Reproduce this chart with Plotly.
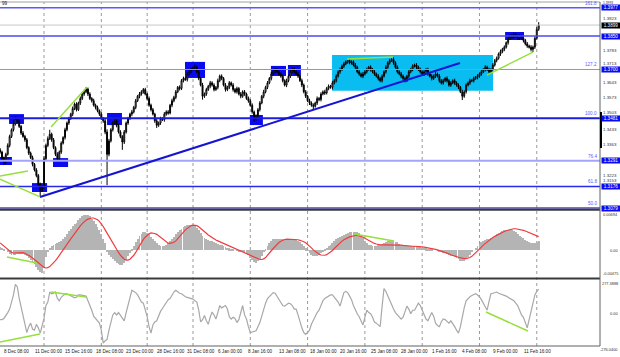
import plotly.graph_objects as go

# ---------------- data ----------------
bar_index = list(range(-1, 282))          # H4 bars, 0 = 8 Dec 08:00

open_first_pips = 340                      # pips above 1.3000
close_pips = [
    330, 300, 285, 320, 360, 400, 430, 455, 480, 470, 445, 415, 400, 385, 350, 325, 305, 275, 250, 225,
    185, 160, 175, 300, 360, 390, 410, 385, 350, 320, 300, 330, 370, 395, 430, 460, 480, 500, 525, 545,
    520, 550, 570, 590, 600, 612, 590, 570, 560, 540, 530, 515, 500, 480, 470, 420, 320, 380, 430, 460,
    470, 450, 420, 400, 375, 420, 460, 480, 500, 510, 530, 560, 580, 590, 600, 610, 590, 570, 540, 520,
    500, 470, 450, 460, 480, 475, 500, 510, 505, 540, 560, 575, 600, 620, 615, 650, 660, 655, 680, 690,
    700, 705, 710, 690, 660, 630, 580, 590, 610, 625, 640, 630, 610, 620, 650, 670, 660, 630, 610, 620,
    640, 630, 610, 600, 615, 590, 580, 600, 590, 570, 560, 540, 510, 480, 490, 520, 550, 580, 600, 620,
    640, 660, 680, 690, 700, 690, 680, 670, 650, 630, 650, 670, 690, 700, 690, 680, 670, 650, 630, 600,
    580, 560, 550, 540, 535, 550, 570, 565, 590, 600, 595, 615, 625, 620, 640, 650, 670, 690, 700, 715,
    725, 735, 740, 730, 735, 720, 710, 690, 680, 670, 680, 690, 700, 710, 700, 690, 680, 670, 660, 650,
    670, 690, 710, 730, 740, 745, 730, 710, 690, 680, 670, 660, 650, 670, 690, 700, 715, 720, 710, 700,
    690, 680, 690, 700, 680, 670, 660, 670, 680, 670, 650, 640, 650, 660, 650, 630, 640, 650, 640, 630,
    620, 600, 580, 600, 630, 640, 650, 650, 660, 665, 670, 680, 690, 700, 710, 700, 690, 700, 720, 740,
    750, 770, 780, 790, 800, 820, 840, 850, 845, 855, 850, 840, 850, 840, 830, 815, 805, 800, 790, 800,
    840, 880, 899]
up_wick_pips = [
    8, 6, 10, 7, 9, 8, 6, 20, 9, 7, 8, 6, 9, 7, 8, 6, 7, 9, 6, 8,
    7, 8, 9, 12, 8, 10, 20, 7, 8, 6, 9, 7, 8, 6, 9, 7, 8, 6, 9, 7,
    8, 6, 9, 7, 8, 9, 7, 8, 6, 9, 7, 8, 6, 9, 7, 10, 12, 9, 7, 8,
    6, 9, 7, 8, 6, 9, 7, 8, 6, 9, 7, 8, 6, 9, 7, 7, 8, 6, 9, 7,
    8, 6, 9, 7, 8, 6, 9, 7, 8, 6, 9, 7, 8, 6, 9, 7, 8, 6, 9, 7,
    8, 9, 12, 7, 8, 6, 10, 7, 8, 6, 9, 7, 8, 6, 9, 7, 8, 6, 9, 7,
    8, 6, 9, 7, 8, 6, 9, 7, 8, 6, 9, 7, 8, 6, 9, 7, 8, 6, 9, 7,
    8, 6, 9, 7, 7, 6, 9, 7, 8, 6, 9, 7, 8, 8, 9, 7, 8, 6, 9, 7,
    8, 6, 9, 7, 8, 6, 9, 7, 8, 6, 9, 7, 8, 6, 9, 7, 8, 6, 9, 7,
    8, 6, 2, 7, 6, 6, 9, 7, 8, 6, 9, 7, 8, 6, 9, 7, 8, 6, 9, 7,
    8, 6, 9, 7, 8, 6, 9, 7, 8, 6, 9, 7, 8, 6, 9, 7, 8, 6, 9, 7,
    8, 6, 9, 7, 8, 6, 9, 7, 8, 6, 9, 7, 8, 6, 9, 7, 8, 6, 9, 7,
    8, 6, 9, 7, 8, 6, 9, 7, 8, 6, 9, 7, 8, 6, 9, 7, 8, 6, 9, 7,
    8, 6, 9, 7, 8, 6, 9, 7, 8, 10, 9, 7, 8, 6, 9, 7, 8, 6, 9, 7,
    8, 10, 13]
dn_wick_pips = [
    7, 9, 13, 8, 6, 9, 7, 8, 6, 9, 7, 8, 6, 9, 7, 8, 6, 9, 7, 8,
    9, 27, 8, 10, 7, 8, 6, 9, 7, 8, 15, 7, 8, 6, 9, 7, 8, 6, 9, 7,
    8, 6, 9, 7, 8, 6, 9, 7, 8, 6, 9, 7, 8, 6, 9, 10, 138, 9, 7, 8,
    6, 9, 7, 8, 35, 9, 7, 8, 6, 9, 7, 8, 6, 9, 7, 8, 6, 9, 7, 8,
    6, 9, 12, 7, 8, 6, 9, 7, 8, 6, 9, 7, 8, 6, 9, 7, 8, 6, 9, 7,
    8, 6, 9, 7, 8, 6, 15, 7, 8, 6, 9, 7, 8, 6, 9, 7, 8, 6, 9, 7,
    8, 6, 9, 7, 8, 6, 9, 7, 8, 6, 9, 7, 8, 15, 9, 7, 8, 6, 9, 7,
    8, 6, 9, 7, 8, 6, 9, 7, 8, 6, 9, 7, 8, 6, 9, 7, 8, 6, 9, 7,
    8, 6, 9, 7, 13, 6, 9, 7, 8, 6, 9, 7, 8, 6, 9, 7, 8, 6, 9, 7,
    8, 6, 9, 7, 8, 6, 9, 7, 8, 6, 9, 7, 8, 6, 9, 7, 8, 6, 9, 7,
    8, 6, 9, 7, 8, 6, 9, 7, 8, 6, 9, 7, 8, 6, 9, 7, 8, 6, 9, 7,
    8, 6, 9, 7, 8, 6, 9, 7, 8, 6, 9, 7, 8, 6, 9, 7, 8, 6, 9, 7,
    8, 6, 17, 7, 8, 6, 9, 7, 8, 6, 9, 7, 8, 6, 9, 7, 8, 6, 9, 7,
    8, 6, 9, 7, 8, 6, 9, 7, 8, 6, 9, 7, 8, 6, 9, 7, 8, 6, 9, 12,
    8, 6, 7]

macd_main_e5 = [
    60, 40, 20, 0, -30, -60, -80, -85, -80, -70, -60, -60, -70, -80, -100, -130, -170, -210, -250, -300,
    -350, -390, -400, -300, -120, -30, 40, 80, 100, 110, 120, 140, 170, 200, 240, 290, 340, 380, 420, 460,
    490, 530, 570, 600, 620, 630, 620, 600, 560, 520, 470, 410, 350, 280, 200, 120, -20, -80, -120, -150,
    -190, -220, -250, -260, -255, -220, -170, -110, -50, 10, 70, 140, 200, 250, 290, 320, 325, 310, 280, 240,
    200, 160, 120, 90, 75, 70, 80, 100, 130, 160, 200, 240, 280, 320, 350, 380, 410, 430, 445, 450,
    450, 445, 430, 400, 360, 310, 250, 210, 190, 180, 170, 160, 140, 120, 110, 100, 90, 70, 50, 40,
    30, 20, 10, 0, -10, -20, -30, -30, -40, -60, -90, -130, -170, -210, -220, -200, -160, -100, -40, 20,
    80, 130, 170, 190, 200, 205, 200, 195, 190, 185, 190, 195, 200, 200, 190, 180, 165, 140, 110, 70,
    30, -10, -50, -90, -110, -110, -100, -80, -50, -20, 10, 40, 70, 100, 130, 160, 190, 220, 230, 250,
    270, 290, 305, 315, 325, 330, 330, 320, 300, 260, 210, 170, 130, 100, 85, 80, 80, 80, 85, 90,
    110, 130, 145, 155, 160, 160, 155, 150, 140, 115, 100, 85, 75, 70, 70, 75, 80, 80, 75, 65,
    55, 45, 40, 35, 25, 15, 5, 0, 0, -5, -20, -35, -45, -55, -70, -90, -100, -110, -120, -140,
    -160, -185, -200, -190, -160, -120, -80, -40, 0, 40, 80, 110, 140, 165, 185, 195, 200, 215, 235, 260,
    285, 310, 330, 345, 355, 360, 365, 365, 355, 340, 320, 290, 260, 235, 210, 185, 165, 150, 135, 125,
    130, 150, 170]
macd_signal_e5 = [
    130, 100, 70, 40, 10, -20, -40, -50, -50, -45, -40, -40, -45, -55, -70, -90, -110, -140, -170, -200,
    -230, -260, -285, -305, -315, -310, -290, -260, -225, -185, -140, -95, -50, 0, 50, 100, 150, 200, 250, 300,
    345, 390, 430, 470, 505, 530, 550, 565, 570, 570, 560, 540, 510, 470, 420, 360, 300, 240, 180, 120,
    60, 10, -40, -90, -130, -160, -175, -175, -160, -130, -90, -40, 20, 80, 140, 190, 230, 265, 290, 305,
    305, 295, 280, 255, 225, 195, 165, 140, 125, 120, 125, 140, 165, 200, 240, 280, 320, 360, 390, 415,
    435, 445, 445, 435, 415, 390, 360, 330, 300, 270, 245, 220, 200, 180, 165, 150, 135, 115, 100, 85,
    70, 55, 45, 35, 20, 5, -10, -25, -40, -55, -70, -85, -100, -120, -140, -155, -165, -165, -155, -130,
    -95, -55, -10, 30, 70, 105, 135, 160, 180, 190, 195, 195, 195, 195, 195, 190, 185, 175, 165, 150,
    130, 105, 75, 40, 5, -25, -50, -70, -85, -90, -90, -80, -60, -35, -5, 30, 65, 100, 130, 160,
    185, 205, 220, 235, 245, 255, 260, 260, 255, 245, 230, 210, 190, 170, 150, 135, 120, 110, 100, 95,
    95, 95, 95, 100, 100, 100, 100, 100, 100, 95, 90, 85, 80, 75, 75, 70, 70, 70, 70, 65,
    65, 60, 55, 50, 45, 40, 35, 25, 15, 5, -5, -15, -25, -35, -50, -65, -80, -95, -105, -115,
    -125, -135, -145, -150, -150, -145, -130, -110, -80, -50, -15, 20, 55, 90, 120, 150, 175, 200, 225, 245,
    265, 285, 300, 315, 330, 345, 355, 365, 375, 380, 380, 375, 370, 360, 350, 340, 325, 310, 295, 280,
    265, 250, 240]
cci_values = [
    -60, -60, -50, -30, 0, 30, 80, 150, 240, 220, 120, 40, -40, -110, -170, -120, -90, -140, -150, -100,
    -130, -175, -120, -50, 60, 90, 175, 160, 165, 175, 120, 100, 130, 150, 160, 160, 150, 140, 130, 125,
    130, 150, 150, 145, 140, 140, 100, 65, 20, -30, -50, -70, -90, -150, -260, -240, -230, -150, -85, -20,
    0, -20, 0, -20, -50, -70, 0, 70, 130, 190, 180, 170, 150, 120, 90, 80, 20, -35, -120, -175,
    -105, -80, -70, -20, 10, 35, 60, 90, 110, 120, 150, 175, 190, 175, 165, 160, 145, 135, 130, 125,
    120, 115, 100, 90, 20, -80, -60, -25, -70, -100, -40, 5, -20, -55, 0, 60, 40, 50, 60, 30,
    -35, -55, -40, -50, -85, -60, 0, 60, -20, -55, -120, -170, -165, -160, -155, -120, -85, -30, 30, 80,
    120, 140, 160, 170, 165, 140, 110, 90, 60, 55, 70, 80, 75, 60, 30, 30, -20, -80, -130, -170,
    -185, -170, -150, -100, -65, -30, 0, 20, 60, 100, 120, 130, 140, 150, 150, 130, 110, 90, 55, 120,
    170, 180, 170, 140, 110, 60, 20, -10, -35, -70, -105, -40, 20, 0, -10, -40, -80, -90, -110, -120,
    50, 205, 180, 140, 100, 55, 30, 0, -20, -40, -55, -40, 0, 55, 30, -10, 20, 20, 50, 80,
    60, 20, -20, -55, -70, -40, 0, -30, -90, -110, -120, -80, -55, -60, -80, -90, -70, -90, -120, -150,
    -175, -120, -35, 40, 100, 120, 135, 145, 150, 160, 150, 135, 110, 80, 40, 20, 95, 160, 165, 170,
    175, 165, 160, 155, 150, 140, 130, 120, 110, 100, 80, 60, 20, -20, -40, -80, -130, -60, 20, 100,
    150, 180, 200]

x_label_bars = [0, 16, 32, 48, 64, 80, 96, 112, 128, 144, 160, 176, 192, 208, 224, 240, 256, 272]
x_labels = ["8 Dec 08:00", "11 Dec 00:00", "15 Dec 16:00", "18 Dec 08:00", "23 Dec 00:00",
            "28 Dec 16:00", "31 Dec 08:00", "6 Jan 00:00", "8 Jan 16:00", "13 Jan 08:00",
            "18 Jan 00:00", "20 Jan 16:00", "25 Jan 08:00", "28 Jan 00:00", "1 Feb 16:00",
            "4 Feb 08:00", "9 Feb 00:00", "11 Feb 16:00"]
week_start_bars = [22, 52, 76, 100, 130, 160, 190, 220, 250, 280]
price_ticks = [1.3993, 1.3923, 1.3783, 1.3713, 1.3643, 1.3573, 1.3503, 1.3433, 1.3363, 1.3223, 1.3153]

fib_prices = [1.3977, 1.3700, 1.3481, 1.3291, 1.3176, 1.3079]
fib_names = ["161.8", "127.2", "100.0", "76.4", "61.8", "50.0"]
level_price = 1.3850
last_price = 1.3899

# drawn objects (bar index, price in pips above 1.3000)
zone_rect = (172.8, 257.1, 605, 765)
marker_boxes = [(-1.05, 5.2, 272, 308), (3.7, 11.5, 456, 500), (15.7, 23.6, 151, 191),
                (26.7, 34.6, 263, 303), (55.0, 62.8, 451, 505), (95.8, 106.3, 662, 734),
                (129.8, 136.6, 451, 496), (140.8, 148.7, 671, 716), (149.7, 156.5, 671, 720),
                (263.4, 273.3, 832, 868)]
trend_line = (19.9, 128.7, 239.8, 729)
green_price = [(-1.05, 223, 13.6, 245), (-1.05, 209, 19.9, 129), (25.7, 442, 44.5, 621),
               (180.6, 747, 204.7, 756), (253.9, 675, 278.0, 778)]
green_macd_e5 = [(2.6, -120, 18.3, -227), (184.3, 287, 205.2, 163)]
green_cci = [(-1.05, -250, 19.9, -182), (25.7, 175, 44.0, 133), (253.4, 5, 275.4, -157)]

# ---------------- build ----------------
def pp(p):
    return 1.3 + p / 10000.0

closes = [pp(c) for c in close_pips]
opens = [pp(open_first_pips)] + closes[:-1]
highs = [max(o, c) + u / 10000.0 for o, c, u in zip(opens, closes, up_wick_pips)]
lows = [min(o, c) - d / 10000.0 for o, c, d in zip(opens, closes, dn_wick_pips)]
macd_main = [v * 1e-5 for v in macd_main_e5]
macd_signal = [v * 1e-5 for v in macd_signal_e5]

W, H = 620, 357
TOP, BOT = 2, 346          # plot area pixel rows
RIGHT = 600
PH = BOT - TOP
Y_MAIN = (1.307496, 1.400232)
MAIN_TOP_PIX, MAIN_BOT_PIX = 2, 209


def py(pix):
    return (BOT - pix) / PH


def px(pix):
    return pix / RIGHT


def price_to_pix(p):
    lo, hi = Y_MAIN
    return MAIN_TOP_PIX + (hi - p) / (hi - lo) * (MAIN_BOT_PIX - MAIN_TOP_PIX)


fig = go.Figure()
fig.add_trace(go.Candlestick(
    x=bar_index, open=opens, high=highs, low=lows, close=closes,
    increasing=dict(line=dict(color="#000000", width=1), fillcolor="#FFFFFF"),
    decreasing=dict(line=dict(color="#000000", width=1), fillcolor="#000000"),
    whiskerwidth=0, xaxis="x", yaxis="y", hoverinfo="skip"))
fig.add_trace(go.Bar(x=bar_index, y=macd_main, width=0.45, marker=dict(color="#B4B4B4", line=dict(width=0)),
                     xaxis="x", yaxis="y2", hoverinfo="skip"))
fig.add_trace(go.Scatter(x=bar_index, y=macd_signal, mode="lines", line=dict(color="#F03C3C", width=1.2),
                         xaxis="x", yaxis="y2", hoverinfo="skip"))
fig.add_trace(go.Scatter(x=bar_index, y=cci_values, mode="lines", line=dict(color="#A8A8A8", width=1.2),
                         xaxis="x", yaxis="y3", hoverinfo="skip"))

shapes = []
for b in week_start_bars:
    shapes.append(dict(type="line", xref="x", yref="paper", x0=b, x1=b, y0=0, y1=1, layer="below",
                       line=dict(color="#9A9A9A", width=1, dash="dot")))
x0, x1, p0, p1 = zone_rect
shapes.append(dict(type="rect", xref="x", yref="y", x0=x0, x1=x1, y0=pp(p0), y1=pp(p1), layer="below",
                   fillcolor="#0ABDF0", line=dict(width=0)))
for (a, b, lo, hi) in marker_boxes:
    shapes.append(dict(type="rect", xref="x", yref="y", x0=a, x1=b, y0=pp(lo), y1=pp(hi), layer="below",
                       fillcolor="#0A0AF0", line=dict(width=0)))
level_styles = [("#5A5AF5", 1.5), ("#8C8CFA", 1.2), ("#1C1CE0", 2), ("#A4A4FA", 2), ("#2A2AE6", 1.5), ("#4848B8", 1.5)]
for p, (col, wd) in zip(fib_prices, level_styles):
    shapes.append(dict(type="line", xref="paper", yref="y", x0=0, x1=1, y0=p, y1=p, line=dict(color=col, width=wd)))
shapes.append(dict(type="line", xref="paper", yref="y", x0=0, x1=1, y0=level_price, y1=level_price,
                   line=dict(color="#4A4AF2", width=1.5)))
shapes.append(dict(type="line", xref="paper", yref="y", x0=0, x1=1, y0=last_price, y1=last_price,
                   line=dict(color="#C8C8C8", width=1)))
a, pa, b, pb = trend_line
shapes.append(dict(type="line", xref="x", yref="y", x0=a, x1=b, y0=pp(pa), y1=pp(pb),
                   line=dict(color="#1414D2", width=2)))
GREEN = "#96E03C"
for (a, pa, b, pb) in green_price:
    shapes.append(dict(type="line", xref="x", yref="y", x0=a, x1=b, y0=pp(pa), y1=pp(pb), line=dict(color=GREEN, width=1.5)))
for (a, pa, b, pb) in green_macd_e5:
    shapes.append(dict(type="line", xref="x", yref="y2", x0=a, x1=b, y0=pa * 1e-5, y1=pb * 1e-5, line=dict(color=GREEN, width=1.5)))
for (a, pa, b, pb) in green_cci:
    shapes.append(dict(type="line", xref="x", yref="y3", x0=a, x1=b, y0=pa, y1=pb, line=dict(color=GREEN, width=1.5)))
shapes.append(dict(type="line", xref="paper", yref="paper", x0=0, x1=1, y0=py(209.8), y1=py(209.8), line=dict(color="#3A3A3A", width=2)))
shapes.append(dict(type="line", xref="paper", yref="paper", x0=0, x1=1, y0=py(278.5), y1=py(278.5), line=dict(color="#3A3A3A", width=2)))
shapes.append(dict(type="line", xref="paper", yref="paper", x0=0, x1=1, y0=1, y1=1, line=dict(color="#A0A0A0", width=1)))
shapes.append(dict(type="line", xref="paper", yref="paper", x0=0, x1=1, y0=0, y1=0, line=dict(color="#606060", width=1)))
shapes.append(dict(type="line", xref="paper", yref="paper", x0=1, x1=1, y0=0, y1=1, line=dict(color="#606060", width=1)))
shapes.append(dict(type="line", xref="paper", yref="y", x0=px(601), x1=px(601), y0=pp(348), y1=pp(510), line=dict(color="#000000", width=2)))

FONT = "Liberation Sans"
ann = []
for b, t in zip(x_label_bars, x_labels):
    ann.append(dict(x=b, xref="x", y=py(351), yref="paper", text=t, showarrow=False, xanchor="left",
                    yanchor="middle", font=dict(family=FONT, size=4.6, color="#202020")))
# tick labels; those sitting next to a level box are nudged above it
box_pix = [price_to_pix(p) for p in fib_prices + [level_price, last_price]]
for p in price_ticks:
    pix = price_to_pix(p)
    clash = [bp for bp in box_pix if abs(bp - pix) < 5.5]
    size = 4.4
    if clash:
        above = min(clash) - 2.6
        if above < 6:
            ypos, yanc, size = py(0.2), "top", 3.3
        else:
            ypos, yanc = py(above), "bottom"
    else:
        ypos, yanc = py(pix), "middle"
    ann.append(dict(x=px(602), xref="paper", y=ypos, yref="paper", text=f"{p:.4f}", showarrow=False, xanchor="left",
                    yanchor=yanc, borderpad=0, font=dict(family=FONT, size=size, color="#303030")))
for p, n in zip(fib_prices, fib_names):
    ann.append(dict(x=px(599), xref="paper", y=p, yref="y", text=n, showarrow=False, xanchor="right",
                    yanchor="bottom", font=dict(family=FONT, size=4.6, color="#5A5AFF")))
for p in fib_prices + [level_price]:
    ann.append(dict(x=px(600.5), xref="paper", y=p, yref="y", text=f"{p:.4f}", showarrow=False, xanchor="left",
                    yanchor="middle", width=18, height=5, bgcolor="#0A0AF0", borderpad=0,
                    font=dict(family=FONT, size=4.6, color="#FFFFFF")))
ann.append(dict(x=px(600.5), xref="paper", y=last_price, yref="y", text=f"{last_price:.4f}", showarrow=False,
                xanchor="left", yanchor="middle", width=18, height=5, bgcolor="#000000", borderpad=0,
                font=dict(family=FONT, size=4.6, color="#FFFFFF")))
ind_labels = [("0.00694", py(214)), ("0.00", py(251)), ("-0.00475", py(273)),
              ("277.3888", py(283)), ("0.00", py(313)), ("-276.0400", py(349))]
for t, yv in ind_labels:
    ann.append(dict(x=px(619.5), xref="paper", y=yv, yref="paper", text=t, showarrow=False, xanchor="right",
                    yanchor="middle", font=dict(family=FONT, size=3.9, color="#303030")))
ann.append(dict(x=0, xref="paper", y=py(3.5), yref="paper", text="99", showarrow=False, xanchor="left",
                yanchor="middle", font=dict(family=FONT, size=4.6, color="#202020")))

fig.update_layout(
    width=W, height=H, margin=dict(l=0, r=W - RIGHT, t=TOP, b=H - BOT),
    paper_bgcolor="#FFFFFF", plot_bgcolor="#FFFFFF", showlegend=False,
    xaxis=dict(range=[-1.05, 313.1], showgrid=False, zeroline=False, showticklabels=False,
               rangeslider=dict(visible=False), anchor="y3", fixedrange=True),
    yaxis=dict(domain=[py(MAIN_BOT_PIX), 1.0], range=list(Y_MAIN), showgrid=False, zeroline=False,
               showticklabels=False, anchor="x", fixedrange=True),
    yaxis2=dict(domain=[py(277), py(211)], range=[-0.00475, 0.00694], showgrid=False, zeroline=False,
                showticklabels=False, anchor="x", fixedrange=True),
    yaxis3=dict(domain=[py(345), py(280)], range=[-276.04, 277.39], showgrid=False, zeroline=False,
                showticklabels=False, anchor="x", fixedrange=True),
    shapes=shapes, annotations=ann, bargap=0,
)

fig.write_html("out.html", config={"displayModeBar": False},
               post_script="document.body.style.margin='0';document.body.style.padding='0';")
